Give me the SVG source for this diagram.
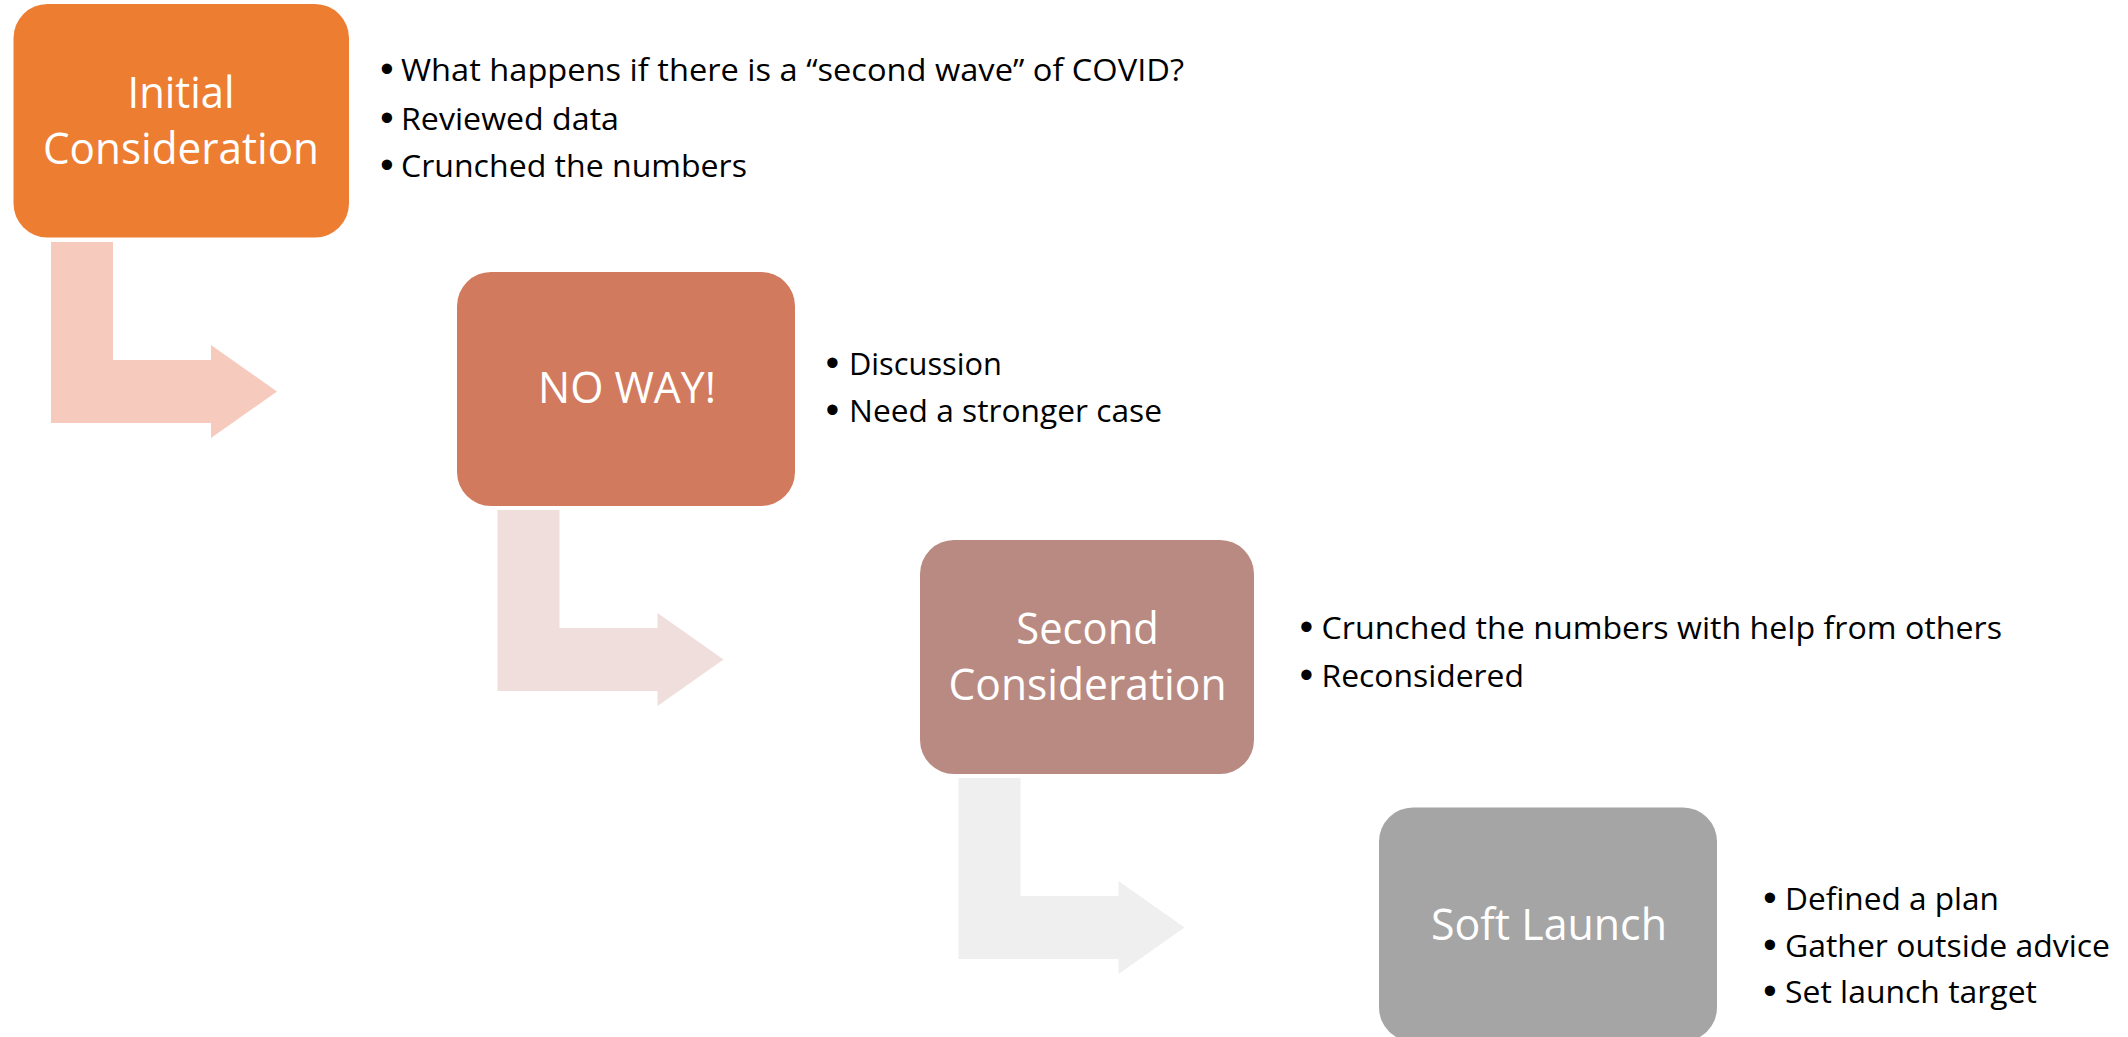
<svg xmlns="http://www.w3.org/2000/svg" width="2128" height="1037" viewBox="0 0 2128 1037">
  <style>
    .box { stroke: none; }
    .label { font-family: "Open Sans", "Lato", "Liberation Sans", sans-serif; font-size: 43px; fill: #FFFFFF; text-anchor: middle; }
    .bt { font-family: "Open Sans", "Lato", "Liberation Sans", sans-serif; font-size: 31px; fill: #000000; }
    .dot { font-family: "Liberation Sans", "DejaVu Sans", sans-serif; font-size: 38px; fill: #000000; text-anchor: middle; }
  </style>
  <defs>
    <path id="bent" d="M0,0 L62,0 L62,118 L160,118 L160,103 L226,149.5 L160,196 L160,181 L0,181 Z"/>
  </defs>
  <rect width="2128" height="1037" fill="#FFFFFF"/>

  <g id="connectors">
    <use href="#bent" transform="translate(51,242)" fill="#F6CBBE"/>
    <use href="#bent" transform="translate(497.5,510)" fill="#F0DEDC"/>
    <use href="#bent" transform="translate(958.5,778)" fill="#EFEFEF"/>
  </g>

  <g id="node-initial">
    <rect class="box" x="13.5" y="4" width="335.5" height="233.5" rx="34" ry="34" fill="#ED7D31"/>
    <text class="label" x="181" y="108" textLength="107" lengthAdjust="spacingAndGlyphs">Initial</text>
    <text class="label" x="181" y="163.5" textLength="276" lengthAdjust="spacingAndGlyphs">Consideration</text>
    <text class="dot" x="387" y="82">•</text>
    <text class="bt" x="401" y="81" textLength="783" lengthAdjust="spacingAndGlyphs">What happens if there is a  “second wave” of COVID?</text>
    <text class="dot" x="387" y="130.5">•</text>
    <text class="bt" x="401" y="129.5" textLength="218" lengthAdjust="spacingAndGlyphs">Reviewed data</text>
    <text class="dot" x="387" y="178">•</text>
    <text class="bt" x="401" y="177" textLength="346" lengthAdjust="spacingAndGlyphs">Crunched the numbers</text>
  </g>

  <g id="node-noway">
    <rect class="box" x="457" y="272" width="338" height="234" rx="34" ry="34" fill="#D17A5E"/>
    <text class="label" x="627" y="403" textLength="178" lengthAdjust="spacingAndGlyphs">NO WAY!</text>
    <text class="dot" x="832.5" y="376">•</text>
    <text class="bt" x="849" y="375" textLength="153" lengthAdjust="spacingAndGlyphs">Discussion</text>
    <text class="dot" x="832.5" y="422.7">•</text>
    <text class="bt" x="849" y="421.7" textLength="313" lengthAdjust="spacingAndGlyphs">Need a stronger case</text>
  </g>

  <g id="node-second">
    <rect class="box" x="920" y="540" width="334" height="234" rx="34" ry="34" fill="#B98A82"/>
    <text class="label" x="1087.5" y="644" textLength="142.5" lengthAdjust="spacingAndGlyphs">Second</text>
    <text class="label" x="1087.5" y="700" textLength="278" lengthAdjust="spacingAndGlyphs">Consideration</text>
    <text class="dot" x="1306.5" y="639.5">•</text>
    <text class="bt" x="1321.5" y="638.5" textLength="680.5" lengthAdjust="spacingAndGlyphs">Crunched the numbers with help from others</text>
    <text class="dot" x="1306.5" y="687.7">•</text>
    <text class="bt" x="1321.5" y="686.7" textLength="202.5" lengthAdjust="spacingAndGlyphs">Reconsidered</text>
  </g>

  <g id="node-soft">
    <rect class="box" x="1379" y="807.5" width="338" height="234" rx="34" ry="34" fill="#A5A5A5"/>
    <text class="label" x="1549" y="939.5" textLength="236" lengthAdjust="spacingAndGlyphs">Soft Launch</text>
    <text class="dot" x="1770" y="911">•</text>
    <text class="bt" x="1785" y="910" textLength="214" lengthAdjust="spacingAndGlyphs">Defined a plan</text>
    <text class="dot" x="1770" y="957.7">•</text>
    <text class="bt" x="1785" y="956.7" textLength="325" lengthAdjust="spacingAndGlyphs">Gather outside advice</text>
    <text class="dot" x="1770" y="1004.3">•</text>
    <text class="bt" x="1785" y="1003.3" textLength="252" lengthAdjust="spacingAndGlyphs">Set launch target</text>
  </g>
</svg>
